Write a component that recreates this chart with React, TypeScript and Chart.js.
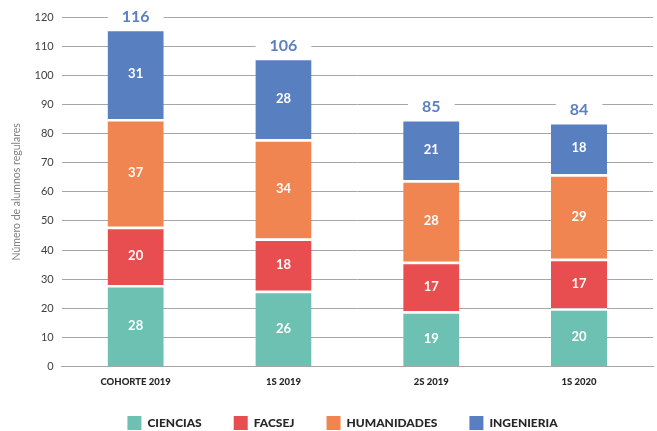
import React, { useEffect, useRef } from "react";
import { Chart, registerables } from "chart.js";

Chart.register(...registerables);

const categories = ["COHORTE 2019", "1S 2019", "2S 2019", "1S 2020"];
const ciencias = [28, 26, 19, 20];
const facsej = [20, 18, 17, 17];
const humanidades = [37, 34, 28, 29];
const ingenieria = [31, 28, 21, 18];
const seriesNames = ["CIENCIAS", "FACSEJ", "HUMANIDADES", "INGENIERIA"];
const seriesColors = ["#6CC1B2", "#E84D4F", "#F08552", "#587FC0"];

const labelPlugin = {
  id: "labels",
  afterDatasetsDraw(chart: any) {
    const ctx = chart.ctx;
    ctx.save();
    ctx.textAlign = "center";
    ctx.textBaseline = "middle";
    chart.data.datasets.forEach((ds: any, di: number) => {
      const meta = chart.getDatasetMeta(di);
      meta.data.forEach((bar: any, i: number) => {
        const y = (bar.y + bar.base) / 2;
        ctx.fillStyle = "#ffffff";
        ctx.font = "bold 13px Lato";
        ctx.fillText(String(ds.data[i]), bar.x, y);
      });
    });
    const lastMeta = chart.getDatasetMeta(chart.data.datasets.length - 1);
    lastMeta.data.forEach((bar: any, i: number) => {
      let total = 0;
      chart.data.datasets.forEach((ds: any) => (total += ds.data[i]));
      const y = bar.y - 12;
      ctx.font = "bold 16px Lato";
      const w = ctx.measureText(String(total)).width;
      ctx.fillStyle = "#ffffff";
      ctx.fillRect(bar.x - w / 2 - 14, y - 9, w + 28, 18);
      ctx.fillStyle = "#5B7FC1";
      ctx.fillText(String(total), bar.x, y);
    });
    ctx.restore();
  },
};

const legendPlugin = {
  id: "customLegend",
  afterDraw(chart: any) {
    const ctx = chart.ctx;
    ctx.save();
    ctx.font = "900 12px Lato";
    ctx.textBaseline = "middle";
    ctx.textAlign = "left";
    const box = 14;
    const gapText = 6;
    const gapItem = 32;
    const items = chart.data.datasets.map((ds: any) => ({
      label: ds.label,
      color: ds.backgroundColor,
      w: box + gapText + ctx.measureText(ds.label).width,
    }));
    const total = items.reduce((s: number, it: any) => s + it.w, 0) + gapItem * (items.length - 1);
    let x = chart.width / 2 + 14 - total / 2;
    const y = chart.height - 8;
    items.forEach((it: any) => {
      ctx.fillStyle = it.color;
      ctx.fillRect(x, y - box / 2, box, box);
      ctx.fillStyle = "#262626";
      ctx.fillText(it.label, x + box + gapText, y + 0.5);
      x += it.w + gapItem;
    });
    ctx.restore();
  },
};

export default function App() {
  const ref = useRef<HTMLCanvasElement>(null);
  useEffect(() => {
    const data = [ciencias, facsej, humanidades, ingenieria];
    const chart = new Chart(ref.current!, {
      type: "bar",
      data: {
        labels: categories,
        datasets: seriesNames.map((name, k) => ({
          label: name,
          data: data[k],
          backgroundColor: seriesColors[k],
          borderColor: "#ffffff",
          borderWidth: { top: 2.5, bottom: 0, left: 0, right: 0 },
          borderSkipped: false,
          barPercentage: 1,
          categoryPercentage: 0.38,
        })),
      },
      options: {
        animation: false,
        responsive: false,
        maintainAspectRatio: false,
        layout: { padding: { top: 17, right: 4, left: 6, bottom: 41 } },
        plugins: {
          legend: { display: false },
          tooltip: { enabled: false },
        },
        scales: {
          x: {
            stacked: true,
            grid: { display: false },
            border: { color: "#A6A6A6" },
            ticks: {
              color: "#262626",
              padding: 2,
              font: { family: "Lato", size: 9.5, weight: "900" },
            },
          },
          y: {
            stacked: true,
            min: 0,
            max: 120,
            ticks: {
              stepSize: 10,
              color: "#404040",
              padding: 8,
              font: { family: "Lato", size: 11 },
            },
            grid: { color: "#A6A6A6", drawTicks: false },
            border: { display: false },
            title: {
              display: true,
              text: "Número de alumnos regulares",
              color: "#7F7F7F",
              font: { family: "Lato", size: 10.5 },
            },
          },
        },
      },
      plugins: [labelPlugin, legendPlugin],
    });
    return () => chart.destroy();
  }, []);
  return (
    <div style={{ position: "fixed", left: 0, top: 0, width: 657, height: 431, background: "#fff" }}>
      <canvas ref={ref} width={657} height={431} />
    </div>
  );
}
